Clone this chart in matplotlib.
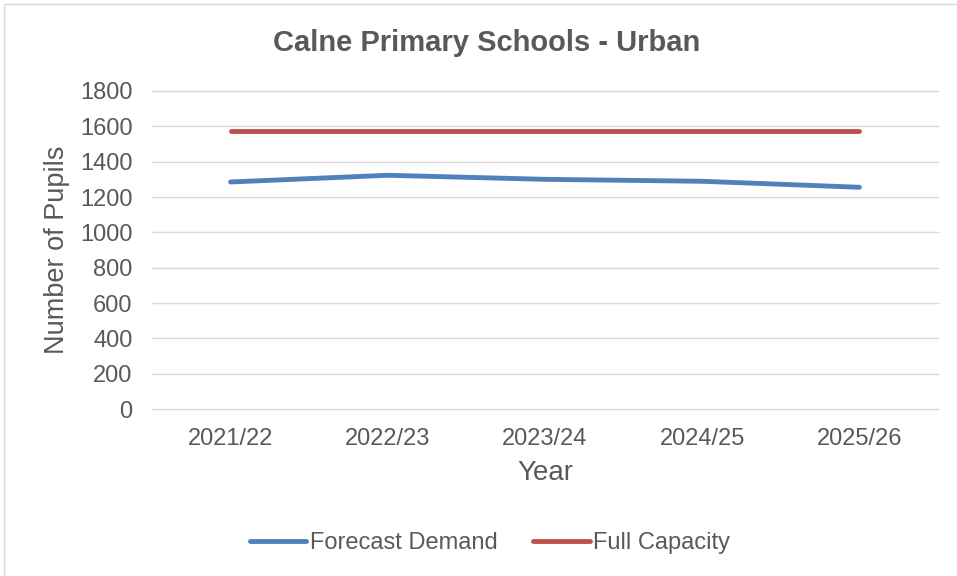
import matplotlib.pyplot as plt
from matplotlib.patches import Rectangle

plt.rcParams['font.family'] = ['Liberation Sans', 'DejaVu Sans']

years = ['2021/22', '2022/23', '2023/24', '2024/25', '2025/26']
forecast_demand = [1285, 1323, 1300, 1289, 1255]
full_capacity = [1575, 1575, 1575, 1575, 1575]

grey = '#595959'

fig = plt.figure(figsize=(9.57, 5.76), dpi=100)
ax = fig.add_axes([152/957, 1 - 409/576, (938-152)/957, (409-91)/576])

x = list(range(len(years)))
ax.plot(x, forecast_demand, color='#4F81BD', lw=3.5, solid_capstyle='round', label='Forecast Demand')
ax.plot(x, full_capacity, color='#C0504D', lw=3.5, solid_capstyle='round', label='Full Capacity')

ax.set_xlim(-0.5, len(years) - 0.5)
ax.set_ylim(0, 1800)
ax.set_yticks(range(0, 1801, 200))
ax.set_xticks(x)
ax.set_xticklabels(years)
ax.yaxis.grid(True, color='#D9D9D9', lw=1)
for gl in ax.get_ygridlines():
    gl.set_clip_on(False)
ax.set_axisbelow(True)
for s in ax.spines.values():
    s.set_visible(False)
ax.tick_params(length=0, labelsize=17, colors=grey)
ax.tick_params(axis='x', pad=14)
ax.tick_params(axis='y', pad=14)

# axis titles and chart title
fig.text(545/957, 1 - 473/576, 'Year', ha='center', va='center', fontsize=20, color=grey)
fig.text(57/957, 1 - 250/576, 'Number of Pupils', ha='center', va='center', rotation=90,
         fontsize=19.5, color=grey)
fig.text(487/957, 1 - 43/576, 'Calne Primary Schools - Urban', ha='center', va='center',
         fontsize=21, fontweight='bold', color=grey)

leg = fig.legend(loc='center', bbox_to_anchor=(490/957, 1 - 543/576), ncol=2, frameon=False,
                 fontsize=17, handlelength=2.4, columnspacing=1.5, handletextpad=0.15)
for t in leg.get_texts():
    t.set_color(grey)

fig.patches.append(Rectangle((4/957, -0.01), 1, 1 - 4/576 + 0.01, transform=fig.transFigure,
                             fill=False, edgecolor='#D9D9D9', lw=1))

fig.savefig('out.png', dpi=100)
